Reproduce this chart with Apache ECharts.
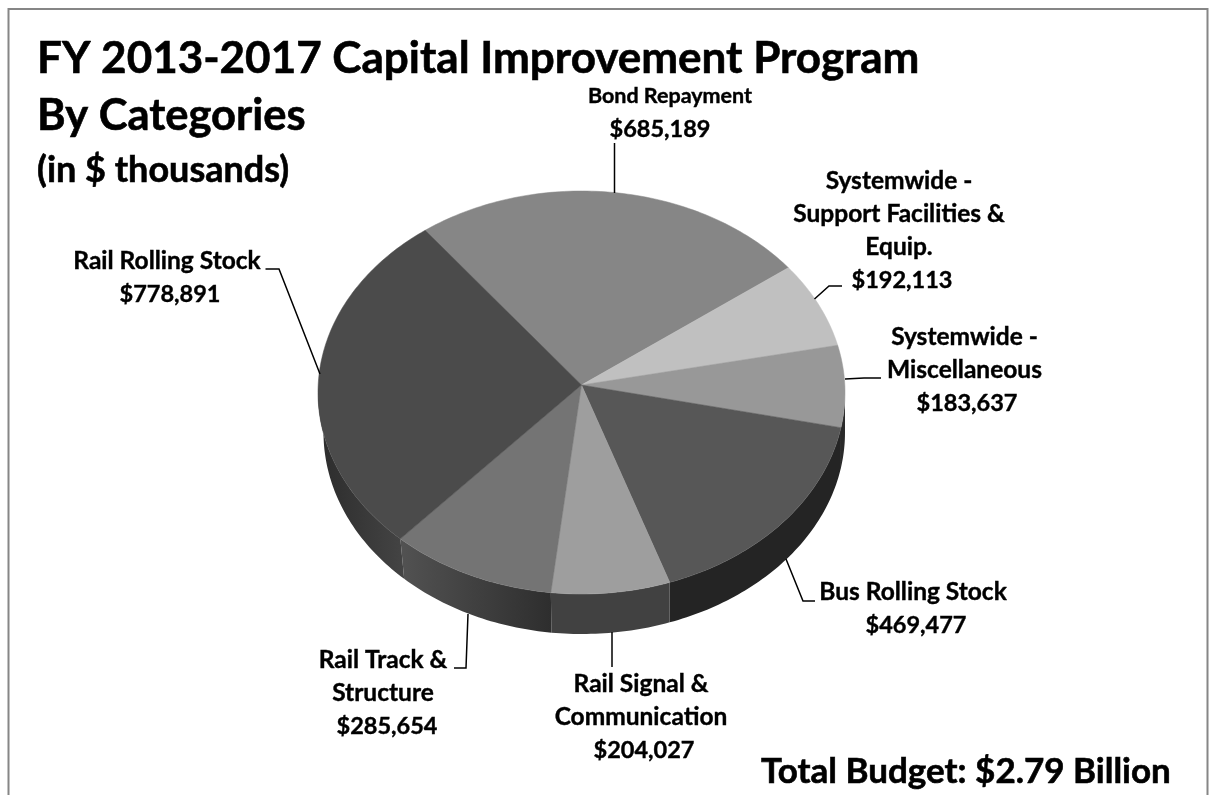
<!DOCTYPE html>
<html><head><meta charset="utf-8">
<style>html,body{margin:0;padding:0;background:#fff}#c{width:1216px;height:795px}</style>
<script src="https://cdn.jsdelivr.net/npm/echarts@6/dist/echarts.min.js"></script>
</head><body><div id="c"></div>
<script>
// ---- data
const categories = ['Bond Repayment','Systemwide -\nSupport Facilities &\nEquip.','Systemwide -\nMiscellaneous','Bus Rolling Stock','Rail Signal &\nCommunication','Rail Track &\nStructure','Rail Rolling Stock'];
const budget = [685189,192113,183637,469477,204027,285654,778891];
const topColors = ['#868686','#c0c0c0','#989898','#575757','#9e9e9e','#747474','#4b4b4b'];
const wallLeft  = ['#333','#333','#2a2a2a','#242424','#414141','#525252','#2c2c2c'];
const wallRight = ['#333','#333','#2a2a2a','#242424','#414141','#2e2e2e','#444444'];
// ---- layout (pixels)
const pie = {cx:581.5, cy:392.5, rx:263.5, ry:201.5, rxBottomLeft:258, ax:581.5, ay:385, depth:40, start:-36.4};
const nameX  = [670,899,964.5,913,641,383,167];
const valueX = [660,902,967,916,644,387,170];
const firstY = [96,181,337,592,684,660,261];
const nameSize = [21.5,24.5,24.5,24.5,24.5,24.5,24.5];
const valueSize = 23.5;
const lineH = 33;
const leaders = [
 [[614.5,143],[614.5,193]],
 [[814.5,299],[829,286],[842,286]],
 [[845,379],[864,378],[881,378]],
 [[786,559],[803,601],[815,601]],
 [[612,632],[612,667]],
 [[468,614],[466,668],[454,668]],
 [[265.5,269],[279,269],[320,374]]
];
const LF = 'Lato, "Noto Sans", sans-serif';
const total = budget.reduce((a,b)=>a+b,0);
const cum = []; budget.reduce((s,v,i)=>{cum[i]=s;return s+v;},0);
const rad = d=>d*Math.PI/180;
const pt = (deg,dy)=>{
  const rx = dy && deg>180 ? pie.rxBottomLeft : pie.rx;
  return [pie.cx+rx*Math.sin(rad(deg)), pie.cy-pie.ry*Math.cos(rad(deg))+(dy||0)];
};
function arc(a0,a1,dy){const n=Math.max(2,Math.ceil(Math.abs(a1-a0)));const o=[];for(let k=0;k<=n;k++)o.push(pt(a0+(a1-a0)*k/n,dy));return o;}

function renderItem(params,api){
  const i=params.dataIndex, v=api.value(0);
  const a0=pie.start+cum[i]/total*360, a1=a0+v/total*360;
  const ch=[];
  const w0=Math.max(a0,90), w1=Math.min(a1,270);
  if(w1>w0){
    ch.push({type:'polygon',shape:{points:arc(w0,w1,0).concat(arc(w1,w0,pie.depth))},
      style:{fill:new echarts.graphic.LinearGradient(0,0,1,0,[{offset:0,color:wallLeft[i]},{offset:1,color:wallRight[i]}]),stroke:null}});
  }
  ch.push({type:'polygon',shape:{points:[[pie.ax,pie.ay]].concat(arc(a0,a1,0))},style:{fill:topColors[i],stroke:topColors[i],lineWidth:0.5}});
  ch.push({type:'polyline',shape:{points:leaders[i]},style:{fill:null,stroke:'#000',lineWidth:1.5}});
  const lines=categories[i].split('\n');
  const base={fontFamily:LF,fontWeight:'bold',fill:'#000',stroke:'#000',lineWidth:0.4,textAlign:'center',textVerticalAlign:'middle'};
  lines.forEach((t,k)=>ch.push({type:'text',style:Object.assign({},base,{text:t,fontSize:nameSize[i],x:nameX[i],y:firstY[i]+k*lineH})}));
  ch.push({type:'text',style:Object.assign({},base,{text:'$'+v.toLocaleString('en-US'),fontSize:valueSize,x:valueX[i],y:firstY[i]+lines.length*lineH})});
  return {type:'group',children:ch};
}

const chart=echarts.init(document.getElementById('c'),null,{renderer:'canvas'});
const tstyle=(s)=>({fontFamily:LF,fontWeight:'bold',fontSize:s,color:'#000',textBorderColor:'#000',textBorderWidth:0.6});
chart.setOption({
  animation:false,
  backgroundColor:'#fff',
  title:[
   {text:'FY 2013-2017 Capital Improvement Program',left:32,top:32,textStyle:tstyle(44)},
   {text:'By Categories',left:32,top:89,textStyle:tstyle(43.5)},
   {text:'(in $ thousands)',left:32,top:147,textStyle:tstyle(36)},
   {text:'Total Budget: $2.79 Billion',left:756,top:749,textStyle:tstyle(35)}
  ],
  graphic:[{type:'rect',silent:true,z:-1,shape:{x:8.5,y:9,width:1199,height:800},style:{fill:'#fff',stroke:'#868686',lineWidth:2}}],
  series:[{type:'custom',coordinateSystem:'none',silent:true,renderItem,data:budget.map((v,i)=>({name:categories[i],value:[v]}))}]
});
</script></body></html>
